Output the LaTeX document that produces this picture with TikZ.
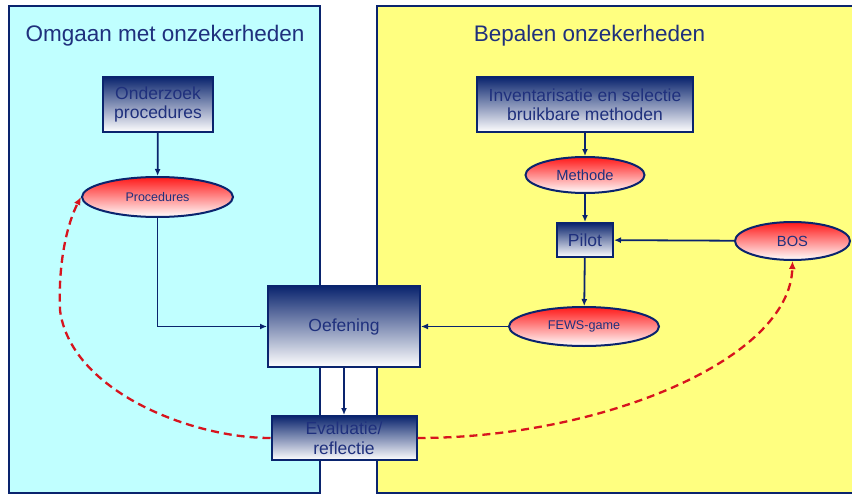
\documentclass[tikz,border=0pt]{standalone}
\usepackage{fontspec}
\setmainfont{Liberation Sans}
\usetikzlibrary{shapes.geometric,arrows.meta}
\definecolor{navy}{RGB}{10,36,110}
\definecolor{inktext}{RGB}{31,48,125}
\definecolor{lichtblauw}{RGB}{192,255,255}
\definecolor{geel}{RGB}{255,255,128}
\definecolor{rood}{RGB}{255,25,25}
\definecolor{stippel}{RGB}{215,20,30}
\begin{document}
\begin{tikzpicture}[x=1pt, y=-1pt,
    box/.style={draw=navy, line width=2pt, top color=navy, bottom color=white, text=inktext,
        align=center, inner sep=0pt, font=\fontsize{17.5}{19.5}\selectfont},
    blob/.style={ellipse, draw=navy, line width=2pt, top color=rood, bottom color=white,
        text=inktext, inner sep=0pt},
    flow/.style={draw=navy, line width=1.8pt, -{Latex[length=7pt,width=6pt]}},
    terug/.style={draw=stippel, line width=2.3pt, dash pattern=on 8pt off 5pt,
        -{Latex[length=8pt,width=7pt]}}]
    \useasboundingbox (0,0) rectangle (852,495);
    \draw[fill=lichtblauw, draw=navy, line width=2.4pt] (9,6) rectangle (320,493);
    \fill[geel] (377,6) rectangle (852,493);
    \draw[navy, line width=2.4pt] (852,6) -- (377,6) -- (377,493) -- (852,493);
    \node[text=inktext, font=\fontsize{22.5}{26}\selectfont] (omgaan) at (165,36) {Omgaan met onzekerheden};
    \node[text=inktext, font=\fontsize{22.5}{26}\selectfont] (bepalen) at (589.5,36) {Bepalen onzekerheden};
    \node[box, minimum width=110, minimum height=55] (onderzoek) at (158,104.5) {Onderzoek\\procedures};
    \node[blob, minimum width=151, minimum height=40, font=\fontsize{12.5}{14}\selectfont] (procedures) at (157.5,197) {Procedures};
    \node[box, minimum width=216, minimum height=55] (inventarisatie) at (585,104.5) {Inventarisatie en selectie\\bruikbare methoden};
    \node[blob, minimum width=119, minimum height=36, font=\fontsize{14.7}{16}\selectfont] (methode) at (585,175) {Methode};
    \node[box, minimum width=56, minimum height=34] (pilot) at (585,240) {Pilot};
    \node[blob, minimum width=115, minimum height=38, font=\fontsize{14.7}{16}\selectfont] (bos) at (792.5,241) {BOS};
    \node[box, minimum width=152, minimum height=81] (oefening) at (344,326.5) {Oefening};
    \node[blob, minimum width=150, minimum height=39, font=\fontsize{12.6}{14}\selectfont] (fews) at (584,326.5) {FEWS-game};
    \node[box, minimum width=145, minimum height=44] (evaluatie) at (344,438) {Evaluatie/\\reflectie};
    \draw[flow] (onderzoek) -- (procedures);
    \draw[flow] (procedures.south) |- (oefening.west);
    \draw[flow] (inventarisatie) -- (methode);
    \draw[flow] (methode) -- (pilot);
    \draw[flow] (bos) -- (pilot);
    \draw[flow] (pilot) -- (fews);
    \draw[flow] (fews) -- (oefening);
    \draw[flow] (oefening) -- (evaluatie);
    \draw[terug] (evaluatie.west) .. controls (190,438) and (70,390) .. (60,310)
        .. controls (58,260) and (68,222) .. (procedures.west);
    \draw[terug] (evaluatie.east) .. controls (600,438) and (790,360) .. (bos.south);
\end{tikzpicture}
\end{document}
